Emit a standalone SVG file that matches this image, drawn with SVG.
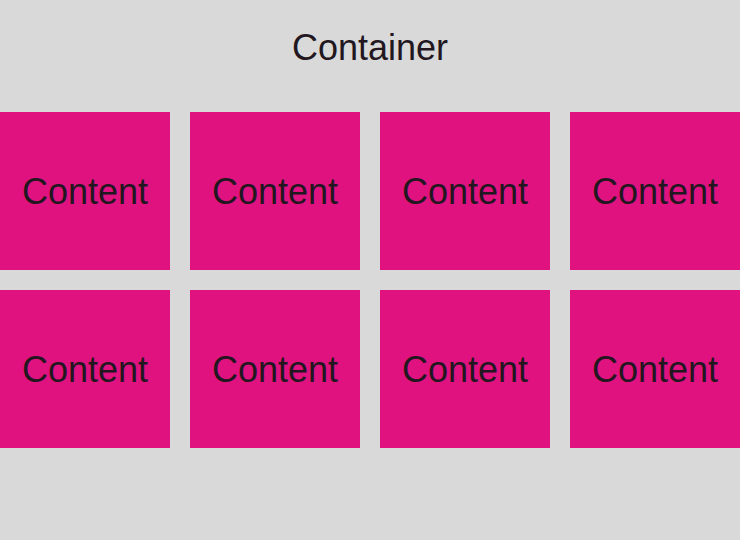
<svg xmlns="http://www.w3.org/2000/svg" width="740" height="540" viewBox="0 0 740 540">
<style>
.box{fill:#e0127f}
.t{font-family:"Liberation Sans",Arial,sans-serif;font-size:36px;fill:#22171f;text-anchor:middle}
</style>
<rect width="740" height="540" fill="#d9d9d9"/>
<text id="title" class="t" x="370" y="60">Container</text>
<g id="c1"><rect class="box" x="0" y="112" width="170" height="158"/><text class="t" x="85" y="204">Content</text></g>
<g id="c2"><rect class="box" x="190" y="112" width="170" height="158"/><text class="t" x="275" y="204">Content</text></g>
<g id="c3"><rect class="box" x="380" y="112" width="170" height="158"/><text class="t" x="465" y="204">Content</text></g>
<g id="c4"><rect class="box" x="570" y="112" width="170" height="158"/><text class="t" x="655" y="204">Content</text></g>
<g id="c5"><rect class="box" x="0" y="290" width="170" height="158"/><text class="t" x="85" y="382">Content</text></g>
<g id="c6"><rect class="box" x="190" y="290" width="170" height="158"/><text class="t" x="275" y="382">Content</text></g>
<g id="c7"><rect class="box" x="380" y="290" width="170" height="158"/><text class="t" x="465" y="382">Content</text></g>
<g id="c8"><rect class="box" x="570" y="290" width="170" height="158"/><text class="t" x="655" y="382">Content</text></g>
<g id="connectors"/>
</svg>
